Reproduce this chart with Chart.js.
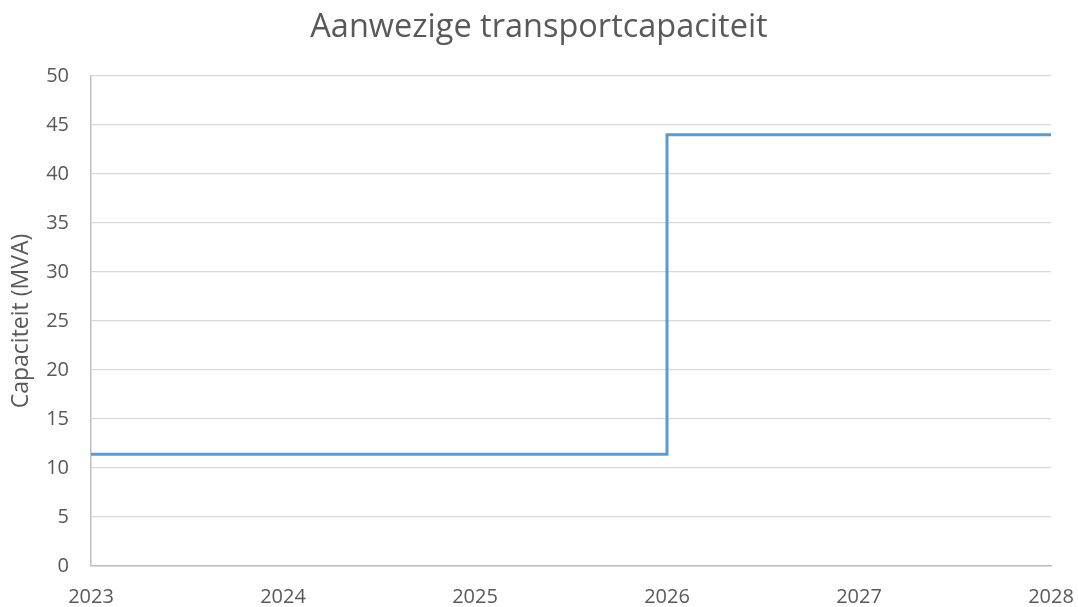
<!DOCTYPE html>
<html>
<head>
<meta charset="utf-8">
<script src="https://cdn.jsdelivr.net/npm/chart.js@4"></script>
<style>
html,body{margin:0;padding:0;background:#fff;}
#wrap{width:1078px;height:607px;}
</style>
</head>
<body>
<div id="wrap"><canvas id="c" width="1078" height="607"></canvas></div>
<script>
const years = [2023, 2024, 2025, 2026, 2027, 2028];
const capacity = [11.4, 11.4, 11.4, 44, 44, 44];
const yTicks = [0, 5, 10, 15, 20, 25, 30, 35, 40, 45, 50];
const titleText = 'Aanwezige transportcapaciteit';
const yTitle = 'Capaciteit (MVA)';

const FONT = "'Open Sans', 'Liberation Sans', sans-serif";
const grey = '#595959';

new Chart(document.getElementById('c'), {
  type: 'line',
  data: {
    datasets: [{
      data: years.map((y, i) => ({x: y, y: capacity[i]})),
      borderColor: '#5b9bd5',
      borderWidth: 3,
      pointRadius: 0,
      stepped: 'before',
      fill: false
    }]
  },
  options: {
    responsive: false,
    animation: false,
    layout: {padding: 0},
    plugins: {
      legend: {display: false},
      tooltip: {enabled: false},
      title: {
        display: true,
        text: titleText,
        color: grey,
        font: {family: FONT, size: 32.5, weight: 'normal'},
        padding: {top: 8, bottom: 29}
      }
    },
    scales: {
      x: {
        type: 'linear',
        min: 2023, max: 2028,
        afterBuildTicks: s => { s.ticks = years.map(v => ({value: v})); },
        ticks: {
          color: grey,
          font: {family: FONT, size: 20},
          callback: v => String(v),
          maxRotation: 0,
          padding: 19
        },
        grid: {display: false, drawTicks: false},
        border: {display: true, color: '#bfbfbf', width: 1.5},
        afterFit: s => { s.height = 41; s.paddingRight = 27; s.paddingLeft = 0; }
      },
      y: {
        min: 0, max: 50,
        afterBuildTicks: s => { s.ticks = yTicks.map(v => ({value: v})); },
        ticks: {
          color: grey,
          font: {family: FONT, size: 20},
          padding: 22
        },
        grid: {color: '#d9d9d9', lineWidth: 1.3, drawTicks: false},
        border: {display: true, color: '#bfbfbf', width: 1.5},
        title: {
          display: true,
          text: yTitle,
          color: grey,
          font: {family: FONT, size: 23},
          padding: {top: 8, bottom: 2}
        },
        afterFit: s => { s.width = 91; }
      }
    }
  }
});
</script>
</body>
</html>
